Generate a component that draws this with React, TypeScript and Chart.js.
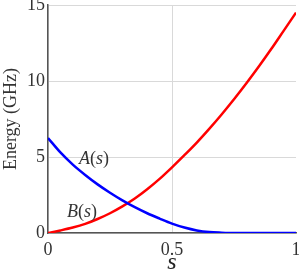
import React, { useEffect, useRef } from "react";
import { Chart, registerables } from "chart.js";

Chart.register(...registerables);

const sValues = [0, 0.05, 0.1, 0.15, 0.2, 0.25, 0.3, 0.35, 0.4, 0.45, 0.5, 0.55, 0.6, 0.65, 0.7, 0.75, 0.8, 0.85, 0.9, 0.95, 1];
const aValues = [6.25, 5.3, 4.5, 3.82, 3.2, 2.65, 2.15, 1.7, 1.3, 0.95, 0.62, 0.36, 0.17, 0.06, 0.02, 0.0, 0, 0, 0, 0, 0];
const bValues = [0, 0.17, 0.36, 0.6, 0.92, 1.3, 1.75, 2.27, 2.88, 3.56, 4.32, 5.12, 5.95, 6.85, 7.8, 8.8, 9.85, 10.95, 12.1, 13.3, 14.5];
const xTicks = [0, 0.5, 1];
const yTicks = [0, 5, 10, 15];
const seriesNames = ["A", "B"];
const labelA = { s: 0.185, v: 4.82 };
const labelB = { s: 0.137, v: 1.37 };

const FONT = "'Liberation Serif', 'Times New Roman', serif";

function drawMathLabel(ctx: CanvasRenderingContext2D, name: string, cx: number, cy: number) {
  const parts = [
    { t: name, it: true },
    { t: "(", it: false },
    { t: "s", it: true },
    { t: ")", it: false },
  ];
  const size = 18;
  let total = 0;
  const widths: number[] = [];
  for (const p of parts) {
    ctx.font = `${p.it ? "italic " : ""}${size}px ${FONT}`;
    const w = ctx.measureText(p.t).width;
    widths.push(w);
    total += w;
  }
  let x = cx - total / 2;
  ctx.textBaseline = "middle";
  ctx.textAlign = "left";
  ctx.fillStyle = "#333";
  parts.forEach((p, i) => {
    ctx.font = `${p.it ? "italic " : ""}${size}px ${FONT}`;
    ctx.fillText(p.t, x, cy);
    x += widths[i];
  });
}

const labelPlugin = {
  id: "curveLabels",
  afterDatasetsDraw(chart: any) {
    const ctx = chart.ctx;
    const xs = chart.scales.x;
    const ys = chart.scales.y;
    ctx.save();
    drawMathLabel(ctx, seriesNames[0], xs.getPixelForValue(labelA.s), ys.getPixelForValue(labelA.v));
    drawMathLabel(ctx, seriesNames[1], xs.getPixelForValue(labelB.s), ys.getPixelForValue(labelB.v));
    ctx.restore();
  },
};

export default function App() {
  const ref = useRef<HTMLCanvasElement | null>(null);
  useEffect(() => {
    if (!ref.current) return;
    const chart = new Chart(ref.current, {
      type: "line",
      data: {
        datasets: [
          {
            label: "A(s)",
            data: sValues.map((s, i) => ({ x: s, y: aValues[i] })),
            borderColor: "#0000ff",
            borderWidth: 2.5,
            pointRadius: 0,
            cubicInterpolationMode: "monotone",
            fill: false,
          },
          {
            label: "B(s)",
            data: sValues.map((s, i) => ({ x: s, y: bValues[i] })),
            borderColor: "#ff0000",
            borderWidth: 2.5,
            pointRadius: 0,
            cubicInterpolationMode: "monotone",
            fill: false,
          },
        ],
      },
      options: {
        responsive: false,
        animation: false,
        devicePixelRatio: 1,
        layout: { padding: { top: 5, right: 3, left: 0, bottom: 0 } },
        plugins: { legend: { display: false }, tooltip: { enabled: false } },
        scales: {
          x: {
            type: "linear",
            min: 0,
            max: 1,
            afterBuildTicks: (s: any) => {
              s.ticks = xTicks.map((v) => ({ value: v }));
            },
            afterFit: (s: any) => {
              s.height = 39;
              s.paddingRight = 0;
              s.paddingLeft = 0;
            },
            ticks: {
              color: "#333",
              font: { family: FONT, size: 18 },
              padding: 6,
              maxRotation: 0,
              callback: (v: any) => String(v),
            },
            grid: {
              drawTicks: false,
              color: (c: any) => (c.tick && c.tick.value === 1 ? "rgba(0,0,0,0)" : "#d9d9d9"),
              lineWidth: 1,
            },
            border: { color: "#555", width: 1.5 },
            title: {
              display: true,
              text: "s",
              color: "#222",
              font: { family: FONT, size: 24, style: "italic", lineHeight: 0.8 },
              padding: { top: 0, bottom: 0 },
            },
          },
          y: {
            type: "linear",
            min: 0,
            max: 15,
            afterBuildTicks: (s: any) => {
              s.ticks = yTicks.map((v) => ({ value: v }));
            },
            afterFit: (s: any) => {
              s.width = 48;
              s.paddingTop = 0;
              s.paddingBottom = 0;
            },
            ticks: {
              color: "#333",
              font: { family: FONT, size: 18 },
              padding: 3,
            },
            grid: {
              drawTicks: false,
              color: "#d9d9d9",
              lineWidth: 1,
            },
            border: { color: "#555", width: 1.5 },
            title: {
              display: true,
              text: "Energy (GHz)",
              color: "#333",
              font: { family: FONT, size: 18 },
              padding: { top: 0, bottom: 0 },
            },
          },
        },
      },
      plugins: [labelPlugin],
    } as any);
    return () => chart.destroy();
  }, []);
  return (
    <div style={{ position: "fixed", left: 0, top: 0, width: 299, height: 272, background: "#fff" }}>
      <canvas ref={ref} width={299} height={272} style={{ width: 299, height: 272, display: "block" }} />
    </div>
  );
}
